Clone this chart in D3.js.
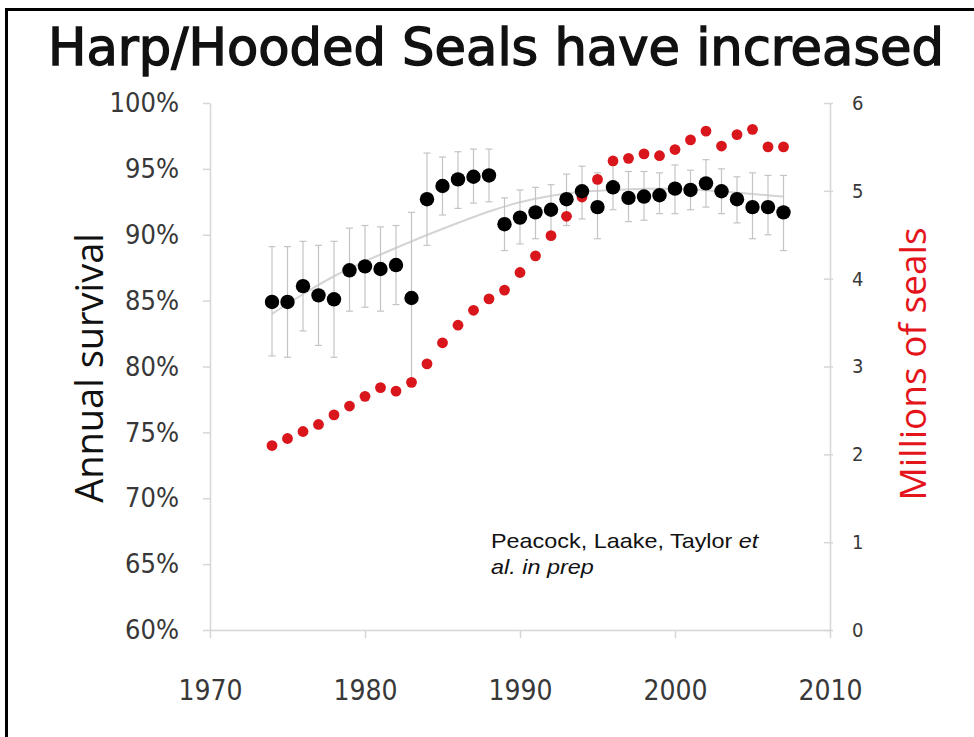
<!DOCTYPE html>
<html>
<head>
<meta charset="utf-8">
<script src="https://cdn.jsdelivr.net/npm/d3@7"></script>
<style>
  html, body { margin: 0; padding: 0; background: #fff; }
  svg { display: block; }
</style>
</head>
<body>
<svg id="chart" width="974" height="737"></svg>
<script>
// Survey years
const years = [1974,1975,1976,1977,1978,1979,1980,1981,1982,1983,1984,1985,1986,1987,1988,1989,1990,
               1991,1992,1993,1994,1995,1996,1997,1998,1999,2000,2001,2002,2003,2004,2005,2006,2007];

// Annual survival estimates (left axis)
const survival = [0.849,0.849,0.861,0.854,0.851,0.873,0.876,0.874,0.877,0.852,0.927,0.937,0.942,0.944,0.945,0.908,0.913,
                  0.917,0.919,0.927,0.933,0.921,0.936,0.928,0.929,0.930,0.935,0.934,0.939,0.933,0.927,0.921,0.921,0.917];
const survivalLow = [0.808,0.807,0.827,0.816,0.807,0.842,0.845,0.842,0.847,0.785,0.892,0.915,0.920,0.924,0.925,0.888,0.893,
                     0.897,0.900,0.907,0.912,0.897,0.919,0.910,0.911,0.916,0.916,0.919,0.921,0.916,0.909,0.897,0.900,0.888];
const survivalHigh = [0.891,0.891,0.895,0.892,0.895,0.905,0.907,0.906,0.907,0.917,0.962,0.959,0.963,0.965,0.965,0.928,0.934,
                      0.936,0.938,0.946,0.952,0.947,0.953,0.948,0.948,0.947,0.953,0.949,0.957,0.950,0.944,0.947,0.945,0.945];

// Population size in millions (right axis)
const population = [2.10,2.18,2.26,2.34,2.45,2.55,2.66,2.76,2.72,2.82,3.03,3.27,3.47,3.64,3.77,3.87,4.07,
                    4.26,4.49,4.71,4.93,5.13,5.34,5.37,5.42,5.40,5.47,5.58,5.68,5.51,5.64,5.70,5.50,5.50];

// Smoothed survival trend
const trendYears = [1974,1976,1978,1980,1982,1984,1986,1988,1990,1992,1994,1996,1998,2000,2002,2004,2007];
const trendValues = [0.840,0.855,0.869,0.880,0.890,0.900,0.909,0.918,0.925,0.930,0.933,0.934,0.935,0.935,0.934,0.932,0.929];

// Axis ticks
const xTicks = [1970,1980,1990,2000,2010];
const leftTicks = [0.60,0.65,0.70,0.75,0.80,0.85,0.90,0.95,1.00];
const rightTicks = [0,1,2,3,4,5,6];

const svg = d3.select("#chart");
const tickFont = "'DejaVu Sans Condensed', 'DejaVu Sans', sans-serif";
const axisGrey = "#d6d6d6";
const redMark = "#d9161c";

const x = d3.scaleLinear().domain([1970, 2010]).range([210, 830]);
const yL = d3.scaleLinear().domain([0.60, 1.00]).range([630, 103]);
const yR = d3.scaleLinear().domain([0, 6]).range([630, 103]);

// Frame
svg.append("path")
  .attr("d", "M6.5,737 L6.5,9.5 L974,9.5")
  .attr("fill", "none")
  .attr("stroke", "#000")
  .attr("stroke-width", 3);

// Title
svg.append("text")
  .attr("x", 496).attr("y", 65)
  .attr("text-anchor", "middle")
  .attr("font-family", "'DejaVu Sans Condensed', 'DejaVu Sans', sans-serif")
  .attr("font-size", 52)
  .attr("textLength", 896)
  .attr("lengthAdjust", "spacingAndGlyphs")
  .attr("fill", "#111")
  .attr("stroke", "#111")
  .attr("stroke-width", 1.3)
  .text("Harp/Hooded Seals have increased");

// Axes
function styleAxis(g) {
  g.select(".domain").attr("stroke", axisGrey).attr("stroke-width", 1.5);
  g.selectAll(".tick line").attr("stroke", axisGrey).attr("stroke-width", 1.5);
  g.selectAll(".tick text").attr("fill", "#383838").attr("font-family", tickFont);
}

const gx = svg.append("g")
  .attr("transform", "translate(0,630)")
  .call(d3.axisBottom(x).tickValues(xTicks).tickFormat(d3.format("d")).tickSize(8).tickSizeOuter(0).tickPadding(42));
styleAxis(gx);
gx.selectAll(".tick text").attr("font-size", 28);

const gl = svg.append("g")
  .attr("transform", "translate(210,0)")
  .call(d3.axisLeft(yL).tickValues(leftTicks).tickFormat(d3.format(".0%")).tickSize(7).tickSizeOuter(0).tickPadding(24));
styleAxis(gl);
gl.selectAll(".tick text").attr("font-size", 27);

const gr = svg.append("g")
  .attr("transform", "translate(830,0)")
  .call(d3.axisRight(yR).tickValues(rightTicks).tickFormat(d3.format("d")).tickSize(0).tickSizeOuter(0).tickPadding(22));
styleAxis(gr);
gr.selectAll(".tick text").attr("font-size", 20);
gr.selectAll(".tick").append("line")
  .attr("x1", -6).attr("x2", 3)
  .attr("stroke", axisGrey).attr("stroke-width", 1.5);

// Axis titles
svg.append("text")
  .attr("transform", "translate(103,368) rotate(-90)")
  .attr("text-anchor", "middle")
  .attr("font-family", "'Open Sans', 'DejaVu Sans', sans-serif")
  .attr("font-size", 38)
  .attr("fill", "#111")
  .text("Annual survival");

svg.append("text")
  .attr("transform", "translate(926,364) rotate(-90)")
  .attr("text-anchor", "middle")
  .attr("font-family", "'Open Sans', 'DejaVu Sans', sans-serif")
  .attr("font-size", 37)
  .attr("fill", "#e4141b")
  .text("Millions of seals");

// Trend curve
svg.append("path")
  .datum(trendYears.map((yr, i) => [yr, trendValues[i]]))
  .attr("fill", "none")
  .attr("stroke", "#d4d4d4")
  .attr("stroke-width", 2)
  .attr("d", d3.line().x(d => x(d[0])).y(d => yL(d[1])).curve(d3.curveBasis));

// Error bars
const bars = svg.append("g").attr("stroke", "#c4c4c4").attr("stroke-width", 1.2);
years.forEach((yr, i) => {
  const cx = x(yr);
  bars.append("line").attr("x1", cx).attr("x2", cx).attr("y1", yL(survivalLow[i])).attr("y2", yL(survivalHigh[i]));
  bars.append("line").attr("x1", cx - 3.5).attr("x2", cx + 3.5).attr("y1", yL(survivalLow[i])).attr("y2", yL(survivalLow[i]));
  bars.append("line").attr("x1", cx - 3.5).attr("x2", cx + 3.5).attr("y1", yL(survivalHigh[i])).attr("y2", yL(survivalHigh[i]));
});

// Population points
svg.append("g").selectAll("circle")
  .data(years.map((yr, i) => [yr, population[i]]))
  .join("circle")
  .attr("cx", d => x(d[0]))
  .attr("cy", d => yR(d[1]))
  .attr("r", 5.4)
  .attr("fill", redMark);

// Survival points
svg.append("g").selectAll("circle")
  .data(years.map((yr, i) => [yr, survival[i]]))
  .join("circle")
  .attr("cx", d => x(d[0]))
  .attr("cy", d => yL(d[1]))
  .attr("r", 7.2)
  .attr("fill", "#000");

// Source note
const note = svg.append("text")
  .attr("transform", "translate(491,0) scale(1.17,1)")
  .attr("font-family", "'Liberation Sans', Arial, sans-serif")
  .attr("font-size", 20)
  .attr("fill", "#111");
note.append("tspan").attr("x", 0).attr("y", 548).text("Peacock, Laake, Taylor ");
note.append("tspan").attr("font-style", "italic").text("et");
note.append("tspan").attr("x", 0).attr("y", 574).attr("font-style", "italic").text("al. in prep");
</script>
</body>
</html>
